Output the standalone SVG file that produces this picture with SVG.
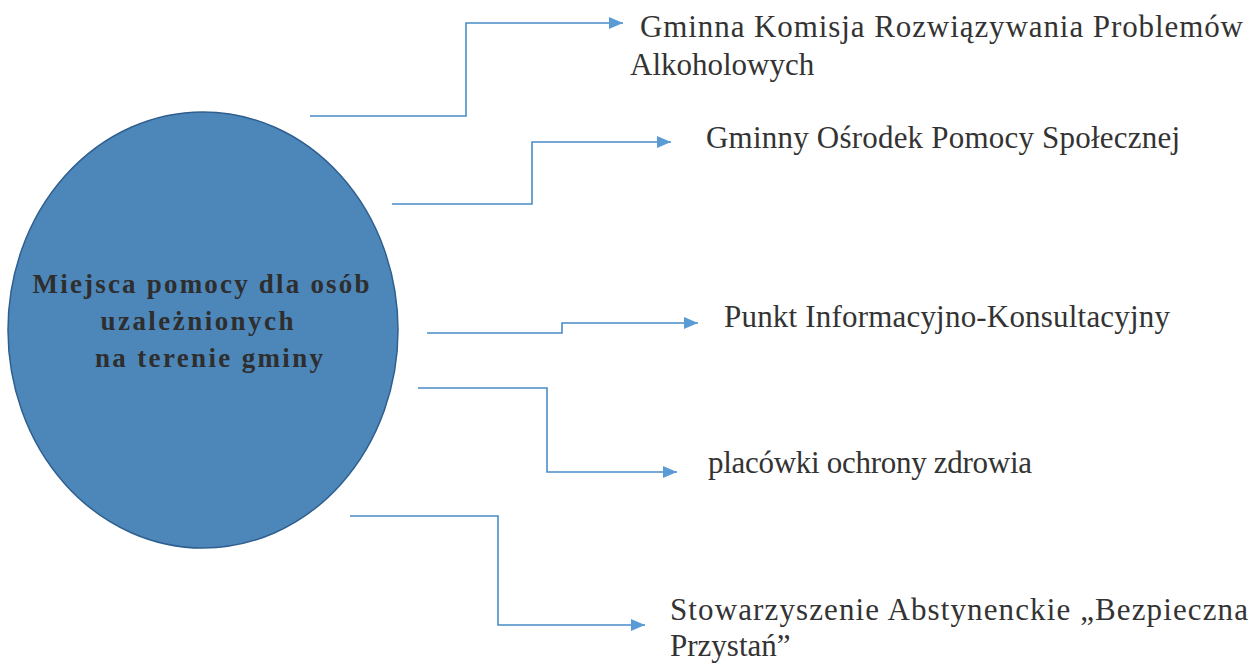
<svg xmlns="http://www.w3.org/2000/svg" width="1250" height="663" viewBox="0 0 1250 663">
<style>
.conn{fill:none;stroke:#4A8CC8;stroke-width:1.6;}
.lbl{font-family:Liberation Serif;font-size:31px;fill:#333333;}
.ctr{font-family:Liberation Serif;font-size:27px;font-weight:bold;fill:#2e2e2e;text-anchor:middle;}
</style>
<defs>
<marker id="arr" markerUnits="userSpaceOnUse" markerWidth="14" markerHeight="12" refX="14" refY="6" orient="auto">
<path d="M0,0 L14,6 L0,12 Z" fill="#5B9BD5"/>
</marker>
</defs>
<rect width="1250" height="663" fill="#ffffff"/>
<g id="center">
<ellipse cx="203" cy="330" rx="195" ry="218" fill="#4D87BA" stroke="#2F5F8F" stroke-width="1.5"/>
<text class="ctr" x="201" y="293" textLength="337" lengthAdjust="spacing">Miejsca pomocy dla osób</text>
<text class="ctr" x="197" y="330" textLength="193" lengthAdjust="spacing">uzależnionych</text>
<text class="ctr" x="209" y="367" textLength="228" lengthAdjust="spacing">na terenie gminy</text>
</g>
<g id="connectors">
<path class="conn" d="M310,116 H466 V23 H623" marker-end="url(#arr)"/>
<path class="conn" d="M392,204 H532 V142 H671" marker-end="url(#arr)"/>
<path class="conn" d="M427,333 H562 V323 H698" marker-end="url(#arr)"/>
<path class="conn" d="M418,388 H547 V472 H677" marker-end="url(#arr)"/>
<path class="conn" d="M350,516 H498 V625 H645" marker-end="url(#arr)"/>
</g>
<g id="n1">
<text class="lbl" x="640" y="37" textLength="603" lengthAdjust="spacing">Gminna Komisja Rozwiązywania Problemów</text>
<text class="lbl" x="630" y="75">Alkoholowych</text>
</g>
<g id="n2">
<text class="lbl" x="706" y="148" textLength="474" lengthAdjust="spacing">Gminny Ośrodek Pomocy Społecznej</text>
</g>
<g id="n3">
<text class="lbl" x="724" y="327" textLength="446" lengthAdjust="spacing">Punkt Informacyjno-Konsultacyjny</text>
</g>
<g id="n4">
<text class="lbl" x="708" y="473" textLength="324" lengthAdjust="spacing">placówki ochrony zdrowia</text>
</g>
<g id="n5">
<text class="lbl" x="670" y="620" textLength="578" lengthAdjust="spacing">Stowarzyszenie Abstynenckie „Bezpieczna</text>
<text class="lbl" x="670" y="656">Przystań”</text>
</g>
</svg>
